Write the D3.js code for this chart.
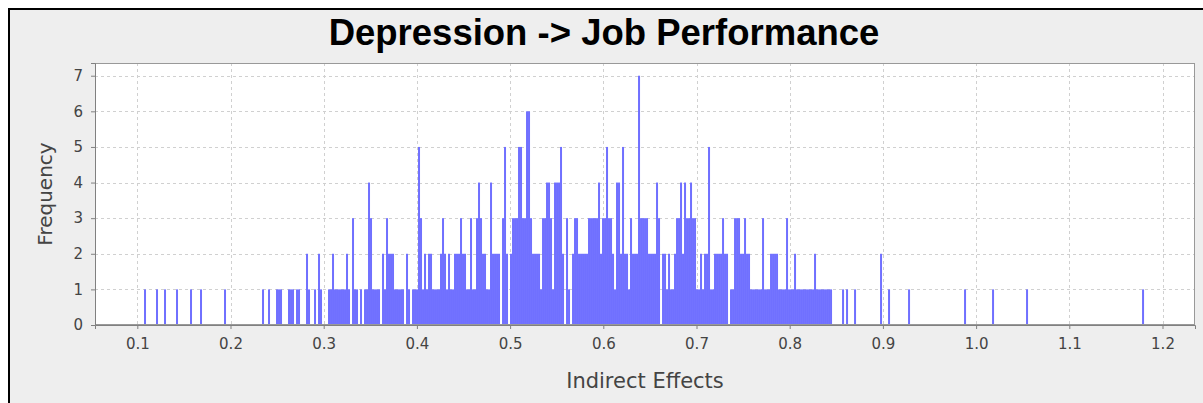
<!DOCTYPE html>
<html>
<head>
<meta charset="utf-8">
<script src="https://cdn.jsdelivr.net/npm/d3@7"></script>
<style>
  body { margin: 0; background: #fff; }
  text { font-family: "DejaVu Sans", sans-serif; }
  text.title { font-family: "Liberation Sans", Arial, sans-serif; }
</style>
</head>
<body>
<svg id="chart" width="1203" height="403"></svg>
<script>
// histogram bins: lower edge of the first bin and bin width (indirect effect units)
const binStart = 0.1072;
const binWidth = 0.002146;

// frequency per bin (500 bins)
const counts = [
  1,0,0,0,0,0,1,0,0,0, 1,0,0,0,0,0,1,0,0,0,
  0,0,0,1,0,0,0,0,1,0, 0,0,0,0,0,0,0,0,0,0,
  1,0,0,0,0,0,0,0,0,0, 0,0,0,0,0,0,0,0,0,1,
  0,0,1,0,0,0,1,1,1,0, 0,0,1,1,1,0,1,1,0,0,
  0,2,1,0,0,1,0,2,1,0, 0,0,1,1,2,1,1,1,1,1,
  1,2,1,0,3,1,1,0,1,0, 1,1,4,3,1,1,1,1,0,2,
  1,3,2,2,2,1,1,1,1,1, 0,2,1,0,1,1,1,5,3,1,
  2,1,2,2,1,1,1,1,2,3, 2,1,2,1,1,2,2,2,3,2,
  2,1,1,3,1,1,3,4,3,2, 2,1,1,4,2,2,2,2,0,3,
  5,2,0,2,3,3,3,5,5,3, 3,6,6,3,2,2,2,2,1,3,
  3,4,4,3,1,4,4,4,5,2, 0,3,1,0,2,3,3,2,2,2,
  2,2,3,3,3,3,3,4,2,3, 3,5,3,3,2,1,4,4,2,5,
  2,2,1,3,2,2,2,7,3,3, 3,3,2,2,2,2,4,3,0,2,
  2,1,2,1,1,2,3,3,4,2, 4,3,3,4,3,3,1,1,2,1,
  2,2,5,1,1,2,2,2,2,3, 2,2,0,1,1,3,3,3,2,2,
  3,2,2,1,1,1,1,1,1,3, 1,1,1,2,2,2,2,1,1,1,
  1,3,1,1,1,2,1,1,1,1, 1,1,1,1,1,2,1,1,1,1,
  1,1,1,1,0,0,0,0,0,1, 0,1,0,0,0,1,0,0,0,0,
  0,0,0,0,0,0,0,0,2,0, 0,0,1,0,0,0,0,0,0,0,
  0,0,1,0,0,0,0,0,0,0, 0,0,0,0,0,0,0,0,0,0,
  0,0,0,0,0,0,0,0,0,0, 1,0,0,0,0,0,0,0,0,0,
  0,0,0,0,1,0,0,0,0,0, 0,0,0,0,0,0,0,0,0,0,
  0,1,0,0,0,0,0,0,0,0, 0,0,0,0,0,0,0,0,0,0,
  0,0,0,0,0,0,0,0,0,0, 0,0,0,0,0,0,0,0,0,0,
  0,0,0,0,0,0,0,0,0,0, 0,0,0,0,0,0,0,0,0,1
];

const xTicks = [0.1, 0.2, 0.3, 0.4, 0.5, 0.6, 0.7, 0.8, 0.9, 1.0, 1.1, 1.2];
const yTicks = [0, 1, 2, 3, 4, 5, 6, 7];

const title = 'Depression -> Job Performance';
const xLabel = 'Indirect Effects';
const yLabel = 'Frequency';

const width = 1203;
const height = 403;
const plot = { left: 95, top: 63, right: 1195, bottom: 325 };

const svg = d3.select('#chart');

// chart frame
svg.append('rect')
  .attr('x', 9).attr('y', 9)
  .attr('width', width).attr('height', height)
  .attr('fill', '#eeeeee')
  .attr('stroke', '#000')
  .attr('stroke-width', 2);

svg.append('text')
  .attr('class', 'title')
  .attr('x', 604).attr('y', 45)
  .attr('text-anchor', 'middle')
  .attr('font-size', 36.5)
  .attr('font-weight', 'bold')
  .attr('fill', '#000')
  .text(title);

const x = d3.scaleLinear()
  .domain([0.05461, 1.23487])
  .range([plot.left, plot.right]);

const y = d3.scaleLinear()
  .domain([0, 7.357])
  .range([plot.bottom, plot.top]);

svg.append('rect')
  .attr('x', plot.left).attr('y', plot.top)
  .attr('width', plot.right - plot.left)
  .attr('height', plot.bottom - plot.top)
  .attr('fill', '#fff');

const grid = svg.append('g')
  .attr('stroke', '#d0d0d0')
  .attr('stroke-dasharray', '3,3');

grid.selectAll('line.vx').data(xTicks).join('line')
  .attr('x1', d => Math.round(x(d)) + 0.5).attr('x2', d => Math.round(x(d)) + 0.5)
  .attr('y1', plot.top).attr('y2', plot.bottom);

grid.selectAll('line.hy').data(yTicks.slice(1)).join('line')
  .attr('y1', d => Math.round(y(d)) + 0.5).attr('y2', d => Math.round(y(d)) + 0.5)
  .attr('x1', plot.left).attr('x2', plot.right);

const bins = counts
  .map((c, i) => ({ x0: binStart + i * binWidth, x1: binStart + (i + 1) * binWidth, count: c }))
  .filter(d => d.count > 0);

svg.append('g')
  .selectAll('rect')
  .data(bins)
  .join('rect')
  .attr('x', d => x(d.x0))
  .attr('width', d => x(d.x1) - x(d.x0))
  .attr('y', d => y(d.count))
  .attr('height', d => y(0) - y(d.count))
  .attr('fill', '#7070ff');

svg.append('rect')
  .attr('x', plot.left + 0.5).attr('y', plot.top + 0.5)
  .attr('width', plot.right - plot.left - 1)
  .attr('height', plot.bottom - plot.top - 1)
  .attr('fill', 'none')
  .attr('stroke', '#999');

const xAxis = d3.axisBottom(x)
  .tickValues(xTicks)
  .tickSize(4)
  .tickPadding(9)
  .tickFormat(d3.format('.1f'));

const yAxis = d3.axisLeft(y)
  .tickValues(yTicks)
  .tickSize(4)
  .tickPadding(8)
  .tickFormat(d3.format('d'));

const gx = svg.append('g')
  .attr('transform', `translate(0,${plot.bottom})`)
  .call(xAxis);

const gy = svg.append('g')
  .attr('transform', `translate(${plot.left},0)`)
  .call(yAxis);

[gx, gy].forEach(g => {
  g.select('.domain').attr('stroke', '#808080');
  g.selectAll('.tick line').attr('stroke', '#808080');
  g.selectAll('.tick text')
    .attr('fill', '#444')
    .attr('font-size', 15);
});

svg.append('text')
  .attr('x', (plot.left + plot.right) / 2)
  .attr('y', 388)
  .attr('text-anchor', 'middle')
  .attr('font-size', 21)
  .attr('fill', '#444')
  .text(xLabel);

svg.append('text')
  .attr('transform', `translate(52,${(plot.top + plot.bottom) / 2}) rotate(-90)`)
  .attr('text-anchor', 'middle')
  .attr('font-size', 20)
  .attr('fill', '#444')
  .text(yLabel);
</script>
</body>
</html>
